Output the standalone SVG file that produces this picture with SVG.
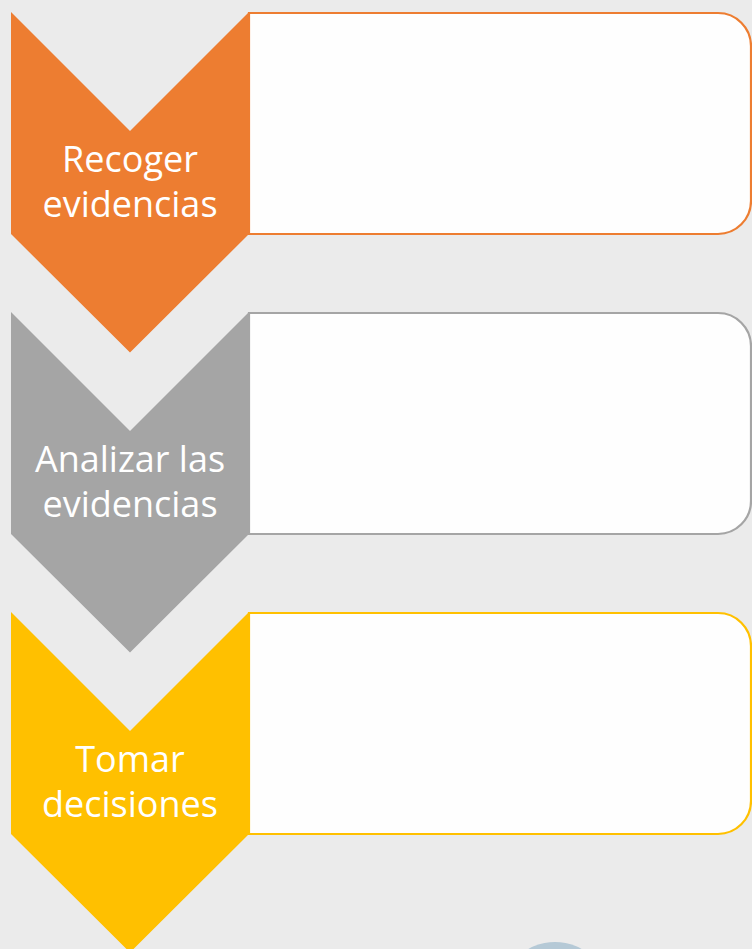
<svg xmlns="http://www.w3.org/2000/svg" width="752" height="949" viewBox="0 0 752 949">
  <style>
    .box { fill: #fefefe; stroke-width: 2.2; }
    .lbl { font-family: "Open Sans", "Noto Sans", "Liberation Sans", sans-serif; font-size: 36px; fill: #ffffff; text-anchor: middle; }
  </style>
  <defs>
    <path id="chev" d="M11,12 L130,131 L249,12 L249,234 L130,352.5 L11,234 Z"/>
    <path id="card" d="M249,13 H718 A33,33 0 0 1 751,46 V201 A33,33 0 0 1 718,234 H249 Z"/>
  </defs>
  <rect x="0" y="0" width="752" height="949" fill="#ebebeb"/>
  <g id="connectors"></g>
  <g id="step1">
    <use href="#card" class="box" stroke="#ed7d31"/>
    <use href="#chev" fill="#ed7d31"/>
    <text class="lbl" x="130" y="172">Recoger<tspan x="130" dy="45">evidencias</tspan></text>
  </g>
  <g id="step2" transform="translate(0,300)">
    <use href="#card" class="box" stroke="#a5a5a5"/>
    <use href="#chev" fill="#a5a5a5"/>
    <text class="lbl" x="130" y="172">Analizar las<tspan x="130" dy="45">evidencias</tspan></text>
  </g>
  <g id="step3" transform="translate(0,600)">
    <use href="#card" class="box" stroke="#ffc000"/>
    <use href="#chev" fill="#ffc000"/>
    <text class="lbl" x="130" y="172">Tomar<tspan x="130" dy="45">decisiones</tspan></text>
  </g>
  <g id="circle">
    <circle cx="555" cy="996" r="54" fill="#b5c9d6"/>
  </g>
</svg>
